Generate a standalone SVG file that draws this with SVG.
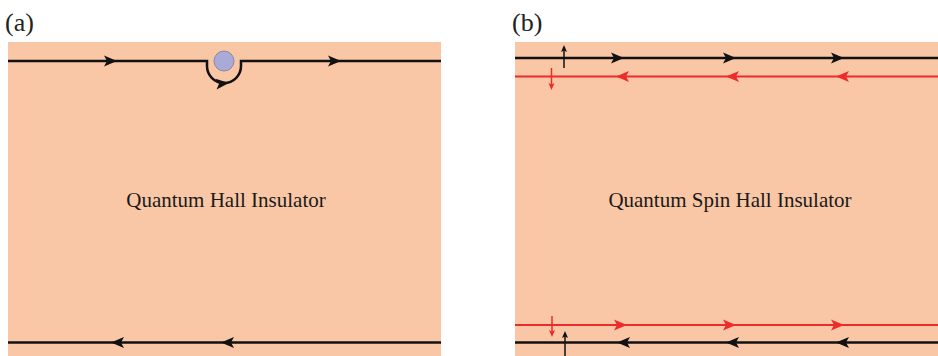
<svg xmlns="http://www.w3.org/2000/svg" width="938" height="356" viewBox="0 0 938 356">
<style>
.bg{fill:#F9C7A5}
.lab{font-family:"Liberation Serif",serif;font-size:26px;fill:#222}
.txt{font-family:"Liberation Serif",serif;font-size:21px;fill:#1a1a1a;text-anchor:middle}
.bk{stroke:#111;stroke-width:2.5;fill:none}
.rd{stroke:#EE2B2B;stroke-width:2;fill:none}
.sb{stroke:#111;stroke-width:1.5;fill:none}
.sr{stroke:#EE2B2B;stroke-width:1.5;fill:none}
</style>
<defs>
<path id="hb" d="M0,0 L-13,-5.5 L-10,0 L-13,5.5 Z" fill="#111"/>
<path id="hr" d="M0,0 L-13,-5.5 L-10,0 L-13,5.5 Z" fill="#EE2B2B"/>
<path id="sbh" d="M0,0 L-7,-3 L-5.5,0 L-7,3 Z" fill="#111"/>
<path id="srh" d="M0,0 L-7,-3 L-5.5,0 L-7,3 Z" fill="#EE2B2B"/>
</defs>

<g id="panel-a">
<text class="lab" x="5" y="31">(a)</text>
<rect class="bg" x="8" y="42" width="433" height="314"/>
<text class="txt" x="226" y="207">Quantum Hall Insulator</text>
</g>

<g id="panel-b">
<text class="lab" x="512" y="31">(b)</text>
<rect class="bg" x="515" y="42" width="423" height="314"/>
<text class="txt" x="730" y="207">Quantum Spin Hall Insulator</text>
</g>

<g id="impurity">
<circle cx="224" cy="61" r="10" fill="#A9A9DA" stroke="#8a8a9a" stroke-width="1"/>
</g>

<g id="connectors">
<!-- panel a top edge -->
<path class="bk" d="M8,61 H207 V66 A17,17 0 0 0 241,66 V61 H441"/>
<use href="#hb" transform="translate(117,61)"/>
<use href="#hb" transform="translate(341,61)"/>
<use href="#hb" transform="translate(229,83) rotate(-5)"/>
<!-- panel a bottom edge -->
<path class="bk" d="M8,342.5 H441"/>
<use href="#hb" transform="translate(111,342.5) rotate(180)"/>
<use href="#hb" transform="translate(221,342.5) rotate(180)"/>

<!-- panel b top -->
<path class="bk" d="M515,58 H938"/>
<use href="#hb" transform="translate(624,58)"/>
<use href="#hb" transform="translate(736,58)"/>
<use href="#hb" transform="translate(844,58)"/>
<path class="rd" d="M515,76.5 H938"/>
<use href="#hr" transform="translate(616,76.5) rotate(180)"/>
<use href="#hr" transform="translate(726,76.5) rotate(180)"/>
<use href="#hr" transform="translate(836,76.5) rotate(180)"/>
<path class="sb" d="M564,68 V50"/>
<use href="#sbh" transform="translate(564,45) rotate(-90)"/>
<path class="sr" d="M551.5,68 V85"/>
<use href="#srh" transform="translate(551.5,90) rotate(90)"/>

<!-- panel b bottom -->
<path class="rd" d="M515,325 H938"/>
<use href="#hr" transform="translate(627,325)"/>
<use href="#hr" transform="translate(736,325)"/>
<use href="#hr" transform="translate(844,325)"/>
<path class="bk" d="M515,342.5 H938"/>
<use href="#hb" transform="translate(617,342.5) rotate(180)"/>
<use href="#hb" transform="translate(726,342.5) rotate(180)"/>
<use href="#hb" transform="translate(836,342.5) rotate(180)"/>
<path class="sr" d="M552,316 V332"/>
<use href="#srh" transform="translate(552,337) rotate(90)"/>
<path class="sb" d="M565,356 V336"/>
<use href="#sbh" transform="translate(565,331) rotate(-90)"/>
</g>
</svg>
